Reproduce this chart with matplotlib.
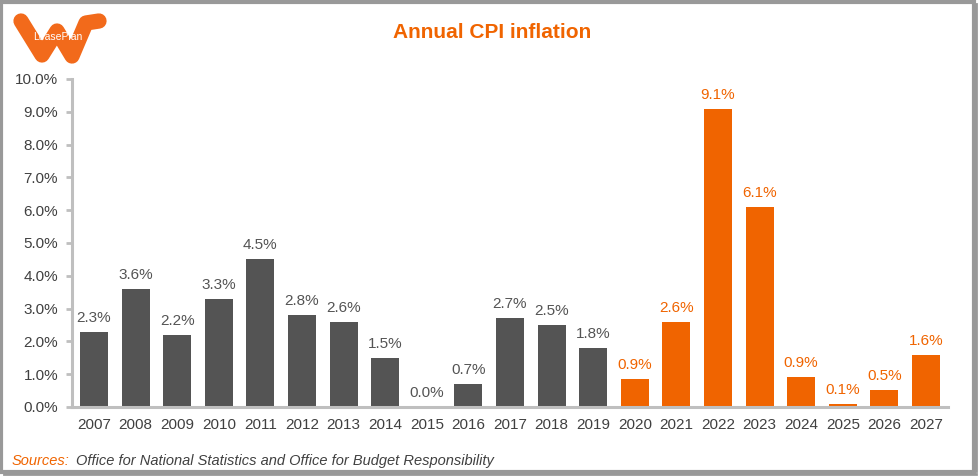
import matplotlib
matplotlib.use('Agg')
import matplotlib.pyplot as plt
from matplotlib.patches import Rectangle
from matplotlib.lines import Line2D

plt.rcParams['font.family'] = ['Liberation Sans', 'DejaVu Sans']

# data
years = ['2007', '2008', '2009', '2010', '2011', '2012', '2013', '2014', '2015', '2016',
         '2017', '2018', '2019', '2020', '2021', '2022', '2023', '2024', '2025', '2026', '2027']
cpi = [2.3, 3.6, 2.2, 3.3, 4.5, 2.8, 2.6, 1.5, 0.0, 0.7,
       2.7, 2.5, 1.8, 0.86, 2.6, 9.1, 6.1, 0.92, 0.1, 0.52, 1.6]
cpi_labels = ['2.3%', '3.6%', '2.2%', '3.3%', '4.5%', '2.8%', '2.6%', '1.5%', '0.0%', '0.7%',
              '2.7%', '2.5%', '1.8%', '0.9%', '2.6%', '9.1%', '6.1%', '0.9%', '0.1%', '0.5%', '1.6%']
first_forecast = '2020'

dark = '#545454'
orange = '#F06400'
text_col = '#404040'

fig = plt.figure(figsize=(9.79, 4.76), dpi=100)
ax = fig.add_axes([72 / 979, 1 - 407 / 476, (948 - 72) / 979, (407 - 79) / 476])

split = years.index(first_forecast)
colors = [dark if i < split else orange for i in range(len(years))]
xs = range(len(years))
bars = ax.bar(xs, cpi, width=0.67, color=colors, zorder=2)

for i, b in enumerate(bars):
    ax.annotate(cpi_labels[i], (b.get_x() + b.get_width() / 2, b.get_height()),
                xytext=(0, 5), textcoords='offset points', ha='center', va='bottom',
                fontsize=11, color=colors[i])

ax.set_xlim(-0.53, len(years) - 0.47)
ax.set_ylim(0, 10)
ax.set_yticks([i for i in range(11)])
ax.set_yticklabels(['%.1f%%' % i for i in range(11)])
ax.set_xticks(list(xs))
ax.set_xticklabels(years)

for s in ['top', 'right']:
    ax.spines[s].set_visible(False)
for s in ['left', 'bottom']:
    ax.spines[s].set_color('#BFBFBF')
    ax.spines[s].set_linewidth(2.2)
ax.tick_params(axis='y', colors='#BFBFBF', length=4, width=2, labelcolor=text_col,
               labelsize=11, pad=6)
ax.tick_params(axis='x', length=0, labelcolor=text_col, labelsize=11, pad=8)

fig.text(492 / 979, 1 - 32 / 476, 'Annual CPI inflation', ha='center', va='center',
         fontsize=15, fontweight='bold', color=orange)

# sources line
fig.text(12 / 979, 1 - 461 / 476, 'Sources:', ha='left', va='center',
         fontsize=10.5, style='italic', color=orange)
fig.text(76 / 979, 1 - 461 / 476, 'Office for National Statistics and Office for Budget Responsibility',
         ha='left', va='center', fontsize=10.5, style='italic', color=text_col)

# rough logo
W = 979
H = 476
lx = [21, 42, 57, 72, 86, 99]
ly = [21, 55, 31, 56, 23, 21]
fig.add_artist(Line2D([x / W for x in lx], [1 - y / H for y in ly],
                      color='#F26A1B', lw=11, solid_capstyle='round',
                      solid_joinstyle='round', zorder=1))
fig.text(58 / W, 1 - 37 / H, 'LeasePlan', ha='center', va='center', fontsize=7.5,
         color='white', zorder=10)

# frame
fig.add_artist(Rectangle((1.5 / W, 4 / H), (W - 6) / W, (H - 6) / H, transform=fig.transFigure,
                         fill=False, ec='#999999', lw=3))
fig.add_artist(Line2D([1 - 3 / W, 1 - 3 / W], [5 / H, 1 - 4 / H], color='#999999', lw=2))
fig.add_artist(Line2D([4 / W, 1 - 3 / W], [2 / H, 2 / H], color='#999999', lw=2))

fig.savefig('out.png', dpi=100)
